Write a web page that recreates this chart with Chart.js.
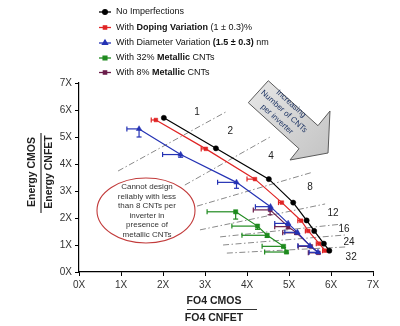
<!DOCTYPE html>
<html><head><meta charset="utf-8">
<script src="https://cdn.jsdelivr.net/npm/chart.js@4.4.1/dist/chart.umd.min.js"></script>
<style>html,body{margin:0;padding:0;background:#fff;}#wrap{width:400px;height:326px;position:relative;}</style>
</head><body><div id="wrap"><canvas id="c" width="400" height="326"></canvas></div>
<script>
// ---- data ----
const seriesNames = ['No Imperfections','With Doping Variation (1 ± 0.3)%','With Diameter Variation (1.5 ± 0.3) nm','With 32% Metallic CNTs','With 8% Metallic CNTs'];
const noImpX = [2.02,3.26,4.52,5.10,5.42,5.60,5.83,5.96];
const noImpY = [5.71,4.58,3.44,2.57,1.91,1.52,1.05,0.79];
const dopX = [1.83,3.02,4.19,4.83,5.29,5.46,5.72,5.86];
const dopY = [5.63,4.56,3.44,2.57,1.90,1.52,1.05,0.79];
const dopXErr = [0.11,0.11,0.19,0.08,0.08,0.07,0.07,0.06];
const diaX = [1.43,2.42,3.75,4.56,4.98,5.20,5.50,5.69];
const diaY = [5.30,4.35,3.32,2.42,1.80,1.47,0.97,0.73];
const diaXErr = [0.29,0.43,0.45,0.36,0.32,0.30,0.29,0.21];
const diaYErr = [0.30,0.10,0.22,0.12,0.08,0.06,0.05,0.04];
const m32X = [3.73,4.25,4.48,4.87,4.94];
const m32Y = [2.23,1.70,1.36,0.95,0.74];
const m32XErr = [0.68,0.61,0.60,0.51,0.52];
const m32YErr = [0.27,0.12,0.08,0.05,0.04];
const m8X = [4.55,4.98,5.18,5.52,5.70];
const m8Y = [2.30,1.68,1.45,0.95,0.71];
const m8XErr = [0.40,0.32,0.33,0.30,0.24];
const m8YErr = [0.18,0.08,0.06,0.05,0.04];
const xTickLabels = ['0X','1X','2X','3X','4X','5X','6X','7X'];
const yTickLabels = ['0X','1X','2X','3X','4X','5X','6X','7X'];
// iso-CNT guide lines (data units)
const guideX0 = [0.93,2.52,2.81,2.88,3.36,3.43,3.52];
const guideY0 = [3.74,3.22,2.44,1.56,1.30,1.00,0.70];
const guideX1 = [3.50,4.55,5.57,5.86,6.29,6.33,6.38];
const guideY1 = [5.93,5.00,3.70,2.52,1.78,1.37,0.93];
const cntLabels = ['1','2','4','8','12','16','24','32'];
const cntLabelX = [2.81,3.60,4.57,5.50,6.05,6.31,6.43,6.48];
const cntLabelY = [5.93,5.22,4.30,3.15,2.19,1.59,1.11,0.56];
const noteLines = ['Cannot design','reliably with less','than 8 CNTs per','inverter in','presence of','metallic CNTs'];
const arrowLines = ['Increasing','Number of CNTs','per inverter'];

const pts = (xs,ys)=>xs.map((x,i)=>({x:x,y:ys[i]}));
const FONT = "'Liberation Sans', Arial, Helvetica, sans-serif";
Chart.defaults.font.family = FONT;

const colors = ['#000000','#e02424','#2432b4','#1e8a1e','#6a1d4a'];
const styles = ['circle','rect','triangle','rect','rect'];
const radii = [2.6,2.6,3.2,3.0,2.6];
const series = [
  {d:pts(noImpX,noImpY)},
  {d:pts(dopX,dopY), ex:dopXErr},
  {d:pts(diaX,diaY), ex:diaXErr, ey:diaYErr},
  {d:pts(m32X,m32Y), ex:m32XErr, ey:m32YErr},
  {d:pts(m8X,m8Y), ex:m8XErr, ey:m8YErr}
];
const datasets = series.map((s,i)=>({
  label: seriesNames[i], data: s.d, showLine:true, borderColor:colors[i], backgroundColor:colors[i],
  borderWidth:1.2, pointStyle:styles[i], pointRadius:radii[i], pointHoverRadius:radii[i], pointBorderWidth:0.5,
  errX: s.ex, errY: s.ey, order: i
}));
guideX0.forEach((x0,i)=>{
  datasets.push({label:'g'+i, data:[{x:x0,y:guideY0[i]},{x:guideX1[i],y:guideY1[i]}], showLine:true,
    borderColor:'#8a8a8a', borderWidth:1, borderDash:[6,2.5,1.5,2.5], pointRadius:0, order:20, isGuide:true});
});

function line(ctx,a,b,c,d){ctx.beginPath();ctx.moveTo(a,b);ctx.lineTo(c,d);ctx.stroke();}

const deco = {
  id:'deco',
  beforeDatasetDraw(chart,args){
    const ds = chart.data.datasets[args.index];
    if(!ds.errX && !ds.errY) return;
    const X=chart.scales.x, Y=chart.scales.y, ctx=chart.ctx;
    ctx.save(); ctx.strokeStyle=ds.borderColor; ctx.lineWidth=1.2;
    ds.data.forEach((p,i)=>{
      const px=X.getPixelForValue(p.x), py=Y.getPixelForValue(p.y);
      if(ds.errX){const ex=X.getPixelForValue(p.x-ds.errX[i]); line(ctx,ex,py,px,py); line(ctx,ex,py-2.5,ex,py+2.5);}
      if(ds.errY){const ey=Y.getPixelForValue(p.y-ds.errY[i]); line(ctx,px,py,px,ey); line(ctx,px-2.5,ey,px+2.5,ey);}
    });
    ctx.restore();
  },
  afterDraw(chart){
    const ctx=chart.ctx, X=chart.scales.x, Y=chart.scales.y, a=chart.chartArea;
    const px=v=>X.getPixelForValue(v), py=v=>Y.getPixelForValue(v);
    ctx.save();
    // legend
    const rows=[12,27.5,43,58,72.5];
    const segs=[[['No Imperfections',0]],[['With ',0],['Doping Variation',1],[' (1 ± 0.3)%',0]],
      [['With Diameter Variation ',0],['(1.5 ± 0.3)',1],[' nm',0]],[['With 32% ',0],['Metallic',1],[' CNTs',0]],
      [['With 8% ',0],['Metallic',1],[' CNTs',0]]];
    rows.forEach((ry,i)=>{
      ctx.strokeStyle=colors[i]; ctx.lineWidth=1.3; line(ctx,99,ry,111,ry);
      ctx.fillStyle=colors[i];
      Chart.helpers.drawPoint(ctx,{pointStyle:styles[i],radius:radii[i]*0.9,rotation:0,borderWidth:0.5},105,ry);
      ctx.fillStyle='#111'; ctx.textBaseline='middle'; ctx.textAlign='left';
      let x=116;
      segs[i].forEach(s=>{ctx.font=(s[1]?'bold ':'')+'9px '+FONT; ctx.fillText(s[0],x,ry); x+=ctx.measureText(s[0]).width;});
    });
    // axis titles
    ctx.fillStyle='#222'; ctx.strokeStyle='#333'; ctx.lineWidth=1.2;
    ctx.font='bold 10.5px '+FONT; ctx.textAlign='center'; ctx.textBaseline='middle';
    const xc=(a.left+a.right)/2 - 0;
    ctx.fillText('FO4 CMOS',214,301); line(ctx,187,309.5,257,309.5); ctx.fillText('FO4 CNFET',214,318.5);
    ctx.save(); ctx.translate(32,172); ctx.rotate(-Math.PI/2); ctx.fillText('Energy CMOS',0,0); ctx.restore();
    line(ctx,41,133,41,213);
    ctx.save(); ctx.translate(49.5,172); ctx.rotate(-Math.PI/2); ctx.fillText('Energy CNFET',0,0); ctx.restore();
    // cnt labels
    ctx.font='10px '+FONT; ctx.fillStyle='#222';
    cntLabels.forEach((t,i)=>ctx.fillText(t,px(cntLabelX[i]),py(cntLabelY[i])));
    // ellipse note
    const ex=px(1.595), ey=py(2.278), rx=px(1.595+1.167)-ex, ry=ey-py(2.278+1.204);
    ctx.beginPath(); ctx.ellipse(ex,ey,rx,ry,0,0,Math.PI*2); ctx.strokeStyle='#c23b3b'; ctx.lineWidth=1.1; ctx.stroke();
    ctx.font='8px '+FONT; ctx.fillStyle='#333';
    noteLines.forEach((t,i)=>ctx.fillText(t,ex+1,ey-23.5+i*9.5));
    // arrow
    const av=[[4.507,7.085],[5.690,5.419],[5.976,5.963],[5.929,4.407],[5.024,4.148],[5.238,4.567],[4.031,6.270]];
    ctx.beginPath(); av.forEach((v,i)=>{const X1=px(v[0]),Y1=py(v[1]); i?ctx.lineTo(X1,Y1):ctx.moveTo(X1,Y1);}); ctx.closePath();
    const g=ctx.createLinearGradient(250,85,330,155); g.addColorStop(0,'#e6e6e6'); g.addColorStop(1,'#c4c4c4');
    ctx.fillStyle=g; ctx.fill(); ctx.strokeStyle='#5a5a5a'; ctx.lineWidth=1; ctx.stroke();
    ctx.save(); ctx.translate(284,111.5); ctx.rotate(42*Math.PI/180);
    ctx.font='8px '+FONT; ctx.fillStyle='#1f3564'; ctx.textAlign='center';
    arrowLines.forEach((t,i)=>ctx.fillText(t,0,(i-1)*10.5));
    ctx.restore();
    ctx.restore();
  }
};

new Chart(document.getElementById('c'),{
  type:'scatter',
  data:{datasets:datasets},
  options:{
    responsive:false, animation:false, devicePixelRatio:1,
    layout:{padding:{left:0,top:83,right:27,bottom:0}},
    plugins:{legend:{display:false},tooltip:{enabled:false}},
    scales:{
      x:{type:'linear',min:0,max:7,afterFit:s=>{s.height=54;},
        ticks:{stepSize:1,padding:3,color:'#333',font:{size:10},callback:v=>xTickLabels[v]},
        grid:{drawOnChartArea:false,tickLength:4,color:'#000'},border:{color:'#000',width:1.2}},
      y:{type:'linear',min:0,max:7,afterFit:s=>{s.width=79;},
        ticks:{stepSize:1,padding:3,color:'#333',font:{size:10},callback:v=>yTickLabels[v]},
        grid:{drawOnChartArea:false,tickLength:4,color:'#000'},border:{color:'#000',width:1.2}}
    }
  },
  plugins:[deco]
});
</script></body></html>
